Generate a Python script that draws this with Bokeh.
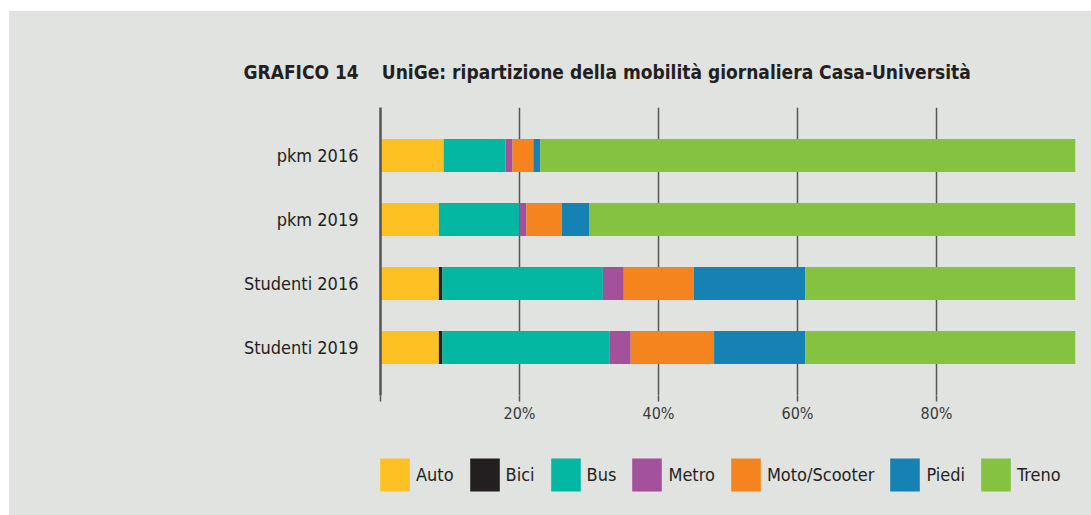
from bokeh.plotting import figure
from bokeh.models import ColumnDataSource, FactorRange, Range1d, FixedTicker, Legend, LegendItem
from bokeh.layouts import column
from bokeh.embed import file_html
from bokeh.resources import INLINE

categories = ["pkm 2016", "pkm 2019", "Studenti 2016", "Studenti 2019"]
modes = ["Auto", "Bici", "Bus", "Metro", "Moto/Scooter", "Piedi", "Treno"]
auto = [9.1, 8.4, 8.4, 8.4]
bici = [0.0, 0.0, 0.5, 0.5]
bus = [8.9, 11.6, 23.1, 24.1]
metro = [1.0, 1.0, 3.0, 3.0]
moto = [3.0, 5.1, 10.1, 12.0]
piedi = [1.0, 3.9, 16.0, 13.1]
treno = [77.0, 70.0, 38.9, 38.9]
tick_values = [0, 20, 40, 60, 80]
tick_labels = {0: "", 20: "20%", 40: "40%", 60: "60%", 80: "80%"}
title_text = "GRAFICO 14\u2003 UniGe: ripartizione della mobilità giornaliera Casa-Università"

colors = ["#fec124", "#231f20", "#04b7a2", "#a4519c", "#f5841f", "#1681b3", "#86c241"]
BG = "#e1e3e0"
TXT = "#231f20"
FONT = "DejaVu Sans Condensed"

source = ColumnDataSource(dict(cat=categories, Auto=auto, Bici=bici, Bus=bus, Metro=metro,
                               **{"Moto/Scooter": moto}, Piedi=piedi, Treno=treno))

p = figure(width=1082, height=429, output_backend="svg", toolbar_location=None,
           y_range=FactorRange(factors=list(reversed(categories)), range_padding=0.125),
           x_range=Range1d(0, 100),
           min_border_left=371, min_border_right=16, min_border_top=96, min_border_bottom=45)
p.background_fill_color = None
p.border_fill_color = BG
p.outline_line_color = None

p.hbar_stack(modes, y="cat", height=0.516, color=colors, line_width=0, source=source)

# title
p.title.text = title_text
p.title.align = "left"
p.title.offset = -137
p.title.standoff = 50
p.title.text_font = FONT
p.title.text_font_size = "19px"
p.title.text_font_style = "bold"
p.title.text_color = TXT

# x axis
p.xaxis.ticker = FixedTicker(ticks=tick_values)
p.xaxis.major_label_overrides = tick_labels
p.xaxis.axis_line_color = None
p.xaxis.minor_tick_line_color = None
p.xaxis.major_tick_in = 0
p.xaxis.major_tick_out = 6
p.xaxis.major_tick_line_color = "#555555"
p.xaxis.major_tick_line_width = 1.5
p.xaxis.major_label_text_font = FONT
p.xaxis.major_label_text_font_size = "16px"
p.xaxis.major_label_text_color = "#3a3a3a"
p.xaxis.major_label_standoff = 2

# y axis
p.yaxis.axis_line_color = "#555555"
p.yaxis.axis_line_width = 2.5
p.yaxis.major_tick_line_color = None
p.yaxis.minor_tick_line_color = None
p.yaxis.major_tick_out = 0
p.yaxis.major_label_standoff = 22
p.yaxis.major_label_text_font = FONT
p.yaxis.major_label_text_font_size = "18px"
p.yaxis.major_label_text_color = TXT

p.xgrid.ticker = FixedTicker(ticks=[20, 40, 60, 80])
p.xgrid.grid_line_color = "#555555"
p.xgrid.grid_line_width = 1.5
p.ygrid.grid_line_color = None

# legend strip: a second figure below the chart (its frame is aligned with the chart's)
lf = figure(width=1082, height=75, output_backend="svg", toolbar_location=None,
            x_axis_type=None, y_axis_type=None, min_border=0,
            x_range=Range1d(0, 100), y_range=FactorRange(factors=list(reversed(categories))))
lf.background_fill_color = None
lf.border_fill_color = BG
lf.outline_line_color = None
lf.grid.grid_line_color = None
lrs = lf.hbar_stack(modes, y="cat", height=0.516, color=colors, line_width=0, source=source)
for r in lrs:
    r.visible = False
lg = Legend(items=[LegendItem(label=m, renderers=[r]) for m, r in zip(modes, lrs)],
            orientation="horizontal", location=(-4, 20))
lg.background_fill_alpha = 0
lg.border_line_color = None
lg.inactive_fill_alpha = 0
lg.padding = 0
lg.margin = 0
lg.glyph_width = 37
lg.glyph_height = 41
lg.label_height = 41
lg.label_standoff = 3
lg.spacing = 12
lg.label_text_font = FONT
lg.label_text_font_size = "18px"
lg.label_text_color = TXT
lf.add_layout(lg, "center")

layout = column(p, lf, spacing=0, margin=(11, 0, 0, 9), styles={"background-color": BG})
open("out.html", "w").write(file_html(layout, INLINE))
